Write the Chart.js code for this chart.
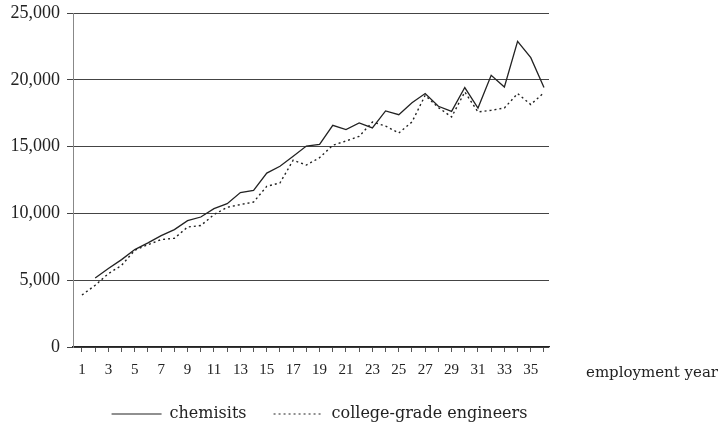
<!DOCTYPE html>
<html>
<head>
<meta charset="utf-8">
<script src="https://cdn.jsdelivr.net/npm/chart.js@4"></script>
<style>
  html, body { margin: 0; padding: 0; background: #fff; overflow: hidden; }
  #wrap { position: relative; width: 727px; height: 432px; }
</style>
</head>
<body>
<div id="wrap"><canvas id="salaryChart"></canvas></div>
<script>
// --- data ---
const years = [1,2,3,4,5,6,7,8,9,10,11,12,13,14,15,16,17,18,19,20,21,22,23,24,25,26,27,28,29,30,31,32,33,34,35,36];
const chemists = [null, 5170, 5870, 6540, 7290, 7790, 8340, 8790, 9460, 9730, 10360, 10730, 11560, 11730, 13020, 13530, 14270, 15040, 15170, 16590, 16270, 16770, 16400, 17670, 17390, 18290, 18970, 18020, 17640, 19420, 17890, 20340, 19460, 22880, 21660, 19420];
const engineers = [3890, 4620, 5490, 6110, 7240, 7660, 8040, 8140, 8980, 9090, 9910, 10460, 10660, 10850, 12030, 12280, 13980, 13620, 14170, 15100, 15420, 15770, 16840, 16540, 16020, 16840, 18840, 17920, 17220, 19090, 17590, 17720, 17890, 18970, 18150, 19040];
const yTicks = [0, 5000, 10000, 15000, 20000, 25000];
const seriesNames = ['chemisits', 'college-grade engineers'];
const xTitle = 'employment year';

const toPoints = (vals) => years.map((yr, i) => ({ x: yr, y: vals[i] }));

// axis title sitting right of the x axis
const xTitlePlugin = {
  id: 'xTitle',
  afterDraw: (chart) => {
    const { ctx, chartArea } = chart;
    ctx.save();
    ctx.font = '15px "DejaVu Serif"';
    ctx.fillStyle = '#222';
    ctx.textBaseline = 'middle';
    ctx.textAlign = 'left';
    ctx.fillText(xTitle, chartArea.right + 37, chartArea.bottom + 26);
    ctx.restore();
  }
};

new Chart(document.getElementById('salaryChart'), {
  type: 'line',
  data: {
    datasets: [
      {
        label: seriesNames[0],
        data: toPoints(chemists),
        borderColor: '#222',
        borderWidth: 1.3,
        pointRadius: 0,
        tension: 0
      },
      {
        label: seriesNames[1],
        data: toPoints(engineers),
        borderColor: '#222',
        borderWidth: 1.4,
        borderDash: [2, 3],
        pointRadius: 0,
        tension: 0
      }
    ]
  },
  options: {
    responsive: true, maintainAspectRatio: false,
    animation: false,
    layout: { padding: { left: 0, right: 88, top: 13, bottom: 0 } },
    plugins: {
      tooltip: { enabled: false },
      legend: {
        position: 'bottom',
        labels: {
          usePointStyle: true,
          pointStyle: 'line',
          pointStyleWidth: 50,
          padding: 27,
          color: '#222',
          font: { family: 'DejaVu Serif', size: 16 },
          // point style drops the dash, so copy it back from the dataset
          generateLabels: (chart) => {
            const items = Chart.defaults.plugins.legend.labels.generateLabels(chart);
            items.forEach(it => {
              const ds = chart.data.datasets[it.datasetIndex];
              it.lineDash = ds.borderDash || [];
              it.lineWidth = 1.2;
            });
            return items;
          }
        }
      }
    },
    scales: {
      x: {
        type: 'linear',
        min: 0.32, max: 36.38,
        afterBuildTicks: (s) => { s.ticks = years.map(v => ({ value: v })); },
        afterFit: (s) => { s.height = 32; s.paddingRight = 178; s.paddingLeft = 0; },
        grid: { drawOnChartArea: false, drawTicks: true, tickLength: 5, color: '#555' },
        border: { color: '#222', width: 1.2 },
        ticks: {
          autoSkip: false, maxRotation: 0, padding: 11,
          color: '#222',
          font: { family: 'Liberation Serif', size: 15, lineHeight: 1 },
          callback: (v) => (v % 2 === 1 ? String(v) : '')
        }
      },
      y: {
        min: 0, max: 25000,
        afterBuildTicks: (s) => { s.ticks = yTicks.map(v => ({ value: v })); },
        afterFit: (s) => { s.width = 73; s.paddingTop = 0; },
        grid: { color: '#444', tickLength: 6 },
        border: { color: '#888', width: 1 },
        ticks: {
          padding: 7,
          color: '#222',
          font: { family: 'Liberation Serif', size: 18 },
          callback: (v) => v.toLocaleString('en-US')
        }
      }
    }
  },
  plugins: [xTitlePlugin]
});
</script>
</body>
</html>
